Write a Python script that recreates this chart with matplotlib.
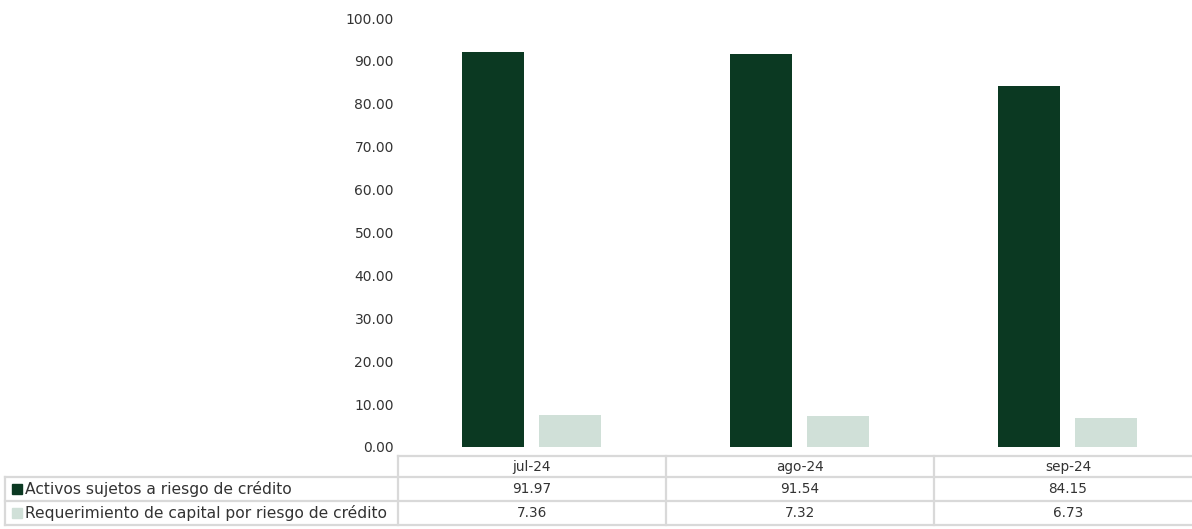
import matplotlib
import matplotlib.pyplot as plt

matplotlib.use("Agg")

categories = ["jul-24", "ago-24", "sep-24"]
activos = [91.97, 91.54, 84.15]
requerimiento = [7.36, 7.32, 6.73]
series_names = ["Activos sujetos a riesgo de crédito",
                "Requerimiento de capital por riesgo de crédito"]
yticks = [0, 10, 20, 30, 40, 50, 60, 70, 80, 90, 100]

dark = "#0B3922"
light = "#D0E0D8"
grid_c = "#D9D9D9"
text_c = "#333333"
plt.rcParams["font.family"] = ["DejaVu Sans"]

W, H = 1192, 529
fig = plt.figure(figsize=(W / 100, H / 100), dpi=100)

# Eje principal (en pixeles: x 398..1202, y 447..18)
left, right = 398, 1202
y0, y100 = 447, 18
ax = fig.add_axes([left / W, (H - y0) / H, (right - left) / W, (y0 - y100) / H])
x = range(len(categories))
ax.bar([i + 0.355 for i in x], activos, width=0.232, color=dark, clip_on=False)
ax.bar([i + 0.643 for i in x], requerimiento, width=0.232, color=light, clip_on=False)
ax.set_xlim(0, len(categories))
ax.set_ylim(0, 100)
ax.set_yticks(yticks)
ax.set_yticklabels([f"{v:.2f}" for v in yticks], fontsize=10, color=text_c)
ax.tick_params(axis="y", length=0, pad=3)
ax.set_xticks([])
for s in ax.spines.values():
    s.set_visible(False)

# Tabla de datos debajo del grafico
tab = fig.add_axes([0, 0, 1, 1], facecolor="none")
tab.set_xlim(0, W)
tab.set_ylim(H, 0)
tab.axis("off")

col_w = (right - left) / len(categories)
rows_y = [456, 477, 501, 525]
lw = 1.6
tab.plot([left, W], [rows_y[0]] * 2, color=grid_c, lw=lw)
for yy in rows_y[1:]:
    tab.plot([5, W], [yy, yy], color=grid_c, lw=lw)
tab.plot([5, 5], [rows_y[1], rows_y[3]], color=grid_c, lw=lw)
for i in range(len(categories)):
    xx = left + i * col_w
    tab.plot([xx, xx], [rows_y[0], rows_y[3]], color=grid_c, lw=lw)

for i, cat in enumerate(categories):
    cx = left + (i + 0.5) * col_w
    tab.text(cx, (rows_y[0] + rows_y[1]) / 2, cat, ha="center", va="center",
             fontsize=9.8, color=text_c)
    tab.text(cx, (rows_y[1] + rows_y[2]) / 2, f"{activos[i]:.2f}", ha="center",
             va="center", fontsize=9.8, color=text_c)
    tab.text(cx, (rows_y[2] + rows_y[3]) / 2, f"{requerimiento[i]:.2f}", ha="center",
             va="center", fontsize=9.8, color=text_c)

for r, (name, col) in enumerate(zip(series_names, [dark, light])):
    yc = (rows_y[r + 1] + rows_y[r + 2]) / 2
    tab.add_patch(plt.Rectangle((12, yc - 5), 10, 10, color=col))
    tab.text(25, yc, name, ha="left", va="center", fontsize=11.2, color=text_c)

fig.savefig("out.png", dpi=100)
plt.close(fig)
